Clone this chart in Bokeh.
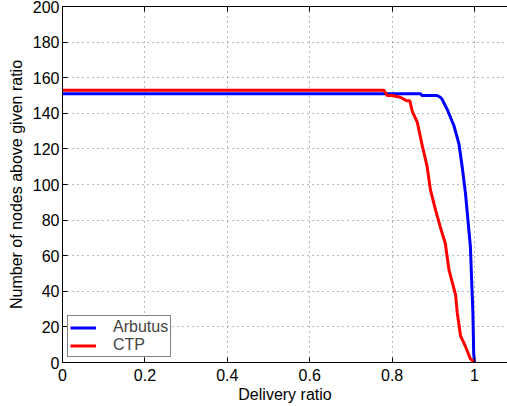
from bokeh.plotting import figure
from bokeh.models import (Range1d, LinearAxis, FixedTicker, CustomJSTickFormatter,
                          Legend, LegendItem, CustomLabelingPolicy)
from bokeh.embed import file_html
from bokeh.resources import INLINE

# Data
arbutus_x = [0.0, 0.869, 0.872, 0.909, 0.917, 0.921, 0.934, 0.950, 0.962, 0.970,
             0.978, 0.984, 0.990, 0.993, 0.996, 0.998, 1.0]
arbutus_y = [151, 151, 150, 150, 149, 148, 142, 133, 123, 110,
             95, 80, 65, 46, 28, 5, 0]

ctp_x = [0.0, 0.780, 0.788, 0.800, 0.820, 0.836, 0.843, 0.849, 0.861, 0.873,
         0.885, 0.893, 0.905, 0.917, 0.929, 0.938, 0.946, 0.954, 0.958,
         0.966, 0.978, 0.990, 1.0]
ctp_y = [153, 153, 150, 150, 149, 147, 147, 141, 135, 122,
         110, 97, 86, 76, 67, 52, 45, 38, 28,
         15, 9, 2, 0]

x_ticks = [0, 0.2, 0.4, 0.6, 0.8, 1.0]
y_ticks = [0, 20, 40, 60, 80, 100, 120, 140, 160, 180, 200]

FONT = "Liberation Sans"

p = figure(width=507, height=406, output_backend="svg", toolbar_location=None,
           x_range=Range1d(0, 1.08), y_range=Range1d(0, 200),
           min_border_left=62, min_border_right=0, min_border_top=6,
           min_border_bottom=44,
           background_fill_color="white", border_fill_color="white")
p.outline_line_color = None

fmt = CustomJSTickFormatter(code="return (Math.round(tick*10)/10).toString();")

for ax in [p.xaxis[0], p.yaxis[0]]:
    ax.major_tick_in = 5
    ax.major_tick_out = 0
    ax.minor_tick_line_color = None
    ax.axis_line_color = "black"
    ax.major_tick_line_color = "black"
    ax.major_label_text_font = FONT
    ax.major_label_text_font_size = "16px"
    ax.major_label_text_color = "black"
    ax.axis_label_text_font = FONT
    ax.axis_label_text_font_size = "16px"
    ax.axis_label_text_font_style = "normal"
    ax.axis_label_text_color = "black"

p.xaxis[0].ticker = FixedTicker(ticks=x_ticks)
p.xaxis[0].formatter = fmt
p.xaxis[0].axis_label = "Delivery ratio"
p.xaxis[0].major_label_standoff = 6
p.xaxis[0].axis_label_standoff = 2

p.yaxis[0].ticker = FixedTicker(ticks=y_ticks)
p.yaxis[0].axis_label = "Number of nodes above given ratio"
p.yaxis[0].major_label_standoff = 3
p.yaxis[0].axis_label_standoff = 5

hide_all = CustomLabelingPolicy(code="""
const out = new indices.constructor(indices.size);
return out;
""")
top = LinearAxis(ticker=FixedTicker(ticks=x_ticks), major_label_policy=hide_all,
                 major_label_text_font_size="0px",
                 major_label_standoff=0, major_tick_in=5, major_tick_out=0,
                 minor_tick_line_color=None, axis_line_color="black",
                 major_tick_line_color="black")
p.add_layout(top, "above")

p.xgrid.ticker = FixedTicker(ticks=x_ticks)
p.ygrid.ticker = FixedTicker(ticks=y_ticks)
for g in [p.xgrid[0], p.ygrid[0]]:
    g.grid_line_color = "#707070"
    g.grid_line_dash = "1 4"
    g.grid_line_width = 1

r1 = p.line(arbutus_x, arbutus_y, line_color="#0000ff", line_width=3)
r2 = p.line(ctp_x, ctp_y, line_color="#ff0000", line_width=3)

legend = Legend(items=[LegendItem(label="Arbutus", renderers=[r1]),
                       LegendItem(label="CTP", renderers=[r2])],
                location=(5, 5), margin=0, padding=2, spacing=0,
                glyph_width=26, glyph_height=17, label_height=17,
                label_standoff=17, label_text_font=FONT,
                label_text_font_size="16px", border_line_color="black",
                border_line_width=1, background_fill_color="white",
                background_fill_alpha=1.0)
p.add_layout(legend, "center")

open("out.html", "w").write(file_html(p, INLINE))
